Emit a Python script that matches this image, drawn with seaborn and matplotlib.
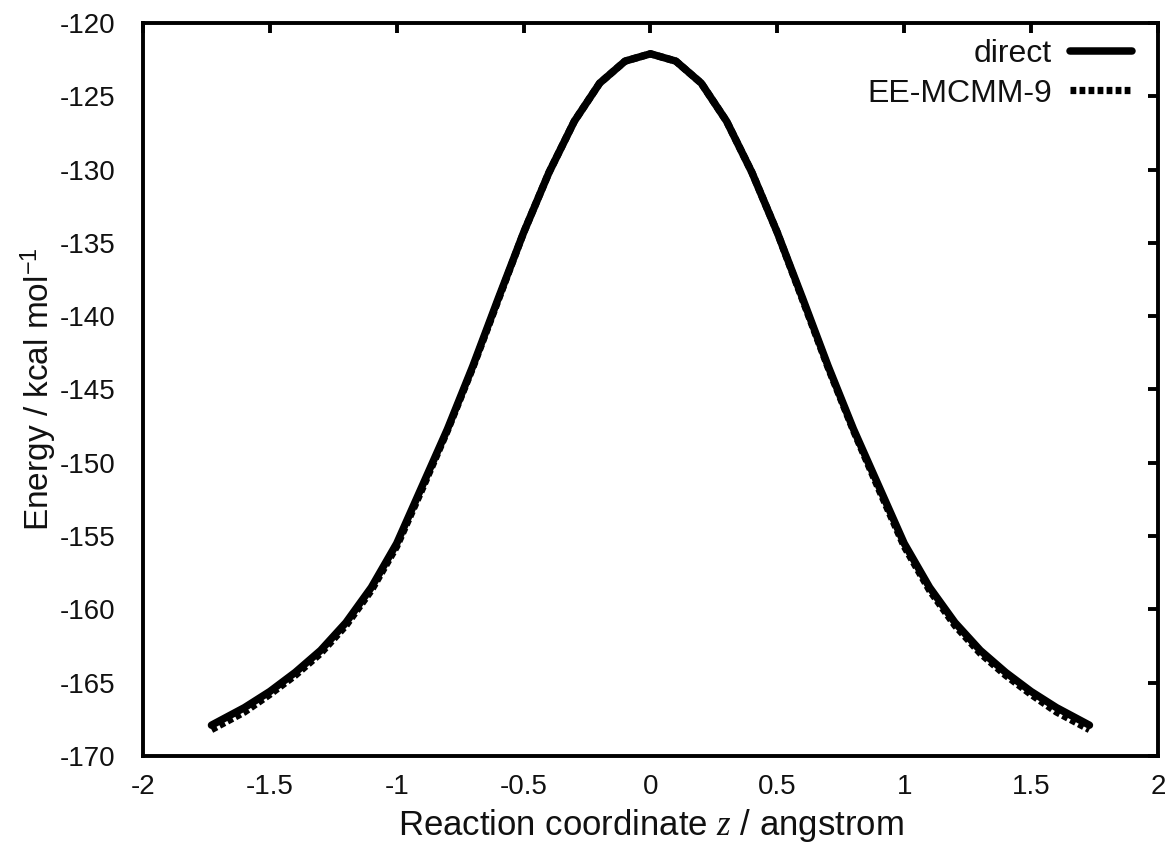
import matplotlib
matplotlib.use("Agg")
import matplotlib.pyplot as plt
import seaborn as sns
import pandas as pd

# Reaction coordinate z (angstrom)
z = [-1.73, -1.6, -1.5, -1.4, -1.3, -1.2, -1.1, -1.0, -0.9, -0.8, -0.7, -0.6,
     -0.5, -0.4, -0.3, -0.2, -0.1, 0.0, 0.1, 0.2, 0.3, 0.4, 0.5, 0.6, 0.7,
     0.8, 0.9, 1.0, 1.1, 1.2, 1.3, 1.4, 1.5, 1.6, 1.73]

# Energies along the path (kcal/mol)
direct = [-167.9, -166.7, -165.6, -164.3, -162.8, -160.9, -158.5, -155.5,
          -151.6, -147.7, -143.4, -138.8, -134.3, -130.2, -126.7, -124.1,
          -122.6, -122.1, -122.6, -124.1, -126.7, -130.2, -134.3, -138.8,
          -143.4, -147.7, -151.6, -155.5, -158.5, -160.9, -162.8, -164.3,
          -165.6, -166.7, -167.9]
ee_mcmm9 = [-168.2, -167.0, -165.8, -164.5, -163.0, -161.1, -158.7, -155.7,
            -151.8, -147.8, -143.5, -138.9, -134.3, -130.2, -126.7, -124.1,
            -122.6, -122.1, -122.6, -124.1, -126.7, -130.2, -134.3, -138.9,
            -143.5, -147.8, -151.8, -155.7, -158.7, -161.1, -163.0, -164.5,
            -165.8, -167.0, -168.2]

x_ticks = [-2, -1.5, -1, -0.5, 0, 0.5, 1, 1.5, 2]
x_tick_labels = ["-2", "-1.5", "-1", "-0.5", "0", "0.5", "1", "1.5", "2"]
y_ticks = [-170, -165, -160, -155, -150, -145, -140, -135, -130, -125, -120]
y_tick_labels = [str(v) for v in y_ticks]

sns.set_style("white")
plt.rcParams["font.family"] = ["Liberation Sans", "DejaVu Sans"]
plt.rcParams["mathtext.fontset"] = "custom"
plt.rcParams["mathtext.rm"] = "Liberation Sans"
plt.rcParams["mathtext.it"] = "Liberation Serif:italic"
plt.rcParams["axes.unicode_minus"] = False

fig = plt.figure(figsize=(11.7, 8.52), dpi=100)
ax = fig.add_axes([0.1222, 0.1127, 0.8675, 0.8603])

df_direct = pd.DataFrame({"z": z, "E": direct})
df_mcmm = pd.DataFrame({"z": z, "E": ee_mcmm9})

sns.lineplot(data=df_direct, x="z", y="E", ax=ax, color="black", lw=5.4,
             label="direct", sort=False)
sns.lineplot(data=df_mcmm, x="z", y="E", ax=ax, color="black", lw=5.2,
             linestyle=(0, (0.8, 0.45)), label="EE-MCMM-9", sort=False)

ax.set_xlim(-2, 2)
ax.set_ylim(-170, -120)
ax.set_xticks(x_ticks)
ax.set_xticklabels(x_tick_labels)
ax.set_yticks(y_ticks)
ax.set_yticklabels(y_tick_labels)

for side in ["left", "right", "top", "bottom"]:
    ax.spines[side].set_visible(True)
    ax.spines[side].set_linewidth(2.8)
    ax.spines[side].set_color("black")

ax.tick_params(axis="both", which="major", direction="in", length=7,
               width=2.8, color="black", top=True, right=True,
               labelsize=20, labelcolor="#111111")
ax.tick_params(axis="y", pad=20)
ax.tick_params(axis="x", pad=13)

ax.set_xlabel(r"Reaction coordinate $z$ / angstrom", fontsize=25,
              color="#111111", labelpad=5)
ax.set_ylabel(r"Energy / kcal mol$^{-1}$", fontsize=24, color="#111111",
              labelpad=0)

leg = ax.legend(loc="upper right", bbox_to_anchor=(0.99, 1.0),
                frameon=False, markerfirst=False, fontsize=23,
                handlelength=1.95, handletextpad=0.55,
                labelspacing=0.3, borderaxespad=0.1)
for text in leg.get_texts():
    text.set_color("#111111")

ax.grid(False)
fig.savefig("out.png", dpi=100, facecolor="white")
